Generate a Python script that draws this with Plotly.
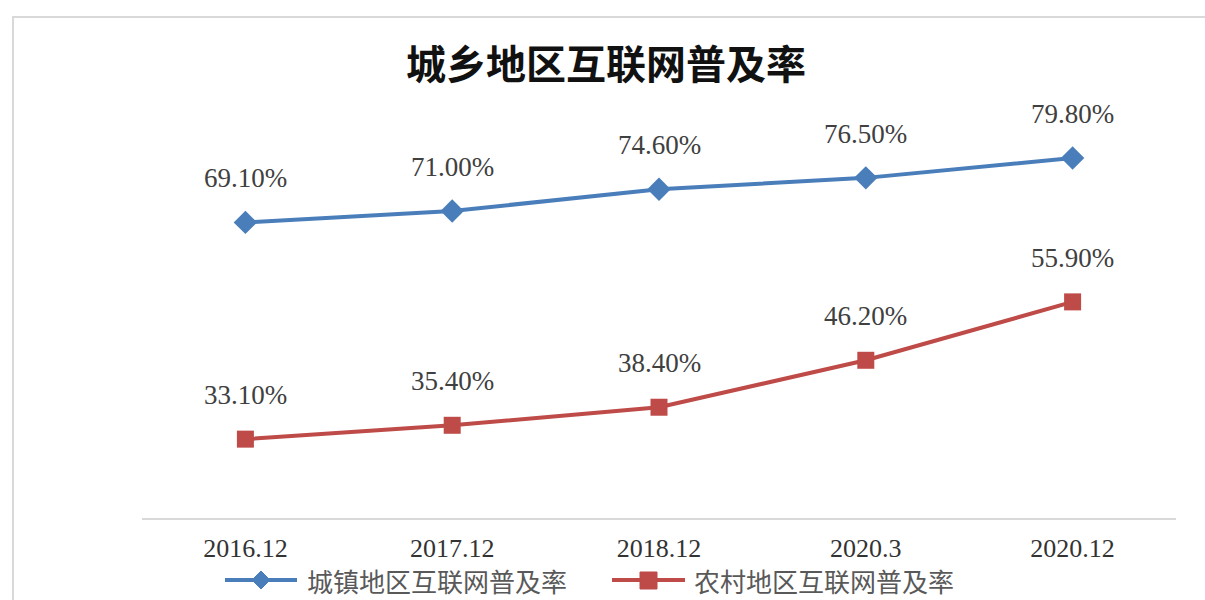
import plotly.graph_objects as go

# Internet penetration, urban vs rural (%)
periods = ["2016.12", "2017.12", "2018.12", "2020.3", "2020.12"]
urban = [69.1, 71.0, 74.6, 76.5, 79.8]
rural = [33.1, 35.4, 38.4, 46.2, 55.9]
urban_name = "城镇地区互联网普及率"
rural_name = "农村地区互联网普及率"
title_text = "城乡地区互联网普及率"

BLUE = "#4a7ebb"
RED = "#be4b48"
W, H = 1205, 600


def px_x(p):
    return p / W


def px_y(p):
    return 1 - p / H


fig = go.Figure()
fig.add_trace(go.Scatter(
    x=periods, y=urban, mode="lines+markers", name=urban_name,
    line=dict(color=BLUE, width=4),
    marker=dict(symbol="diamond", size=18, color=BLUE),
    showlegend=False,
))
fig.add_trace(go.Scatter(
    x=periods, y=rural, mode="lines+markers", name=rural_name,
    line=dict(color=RED, width=4),
    marker=dict(symbol="square", size=17, color=RED),
    showlegend=False,
))

annotations = []
# value labels above each point (category axis positions are serial indices)
for series in (urban, rural):
    for i, v in enumerate(series):
        annotations.append(dict(
            x=i, y=v, xref="x", yref="y", text=f"{v:.2f}%",
            showarrow=False, yshift=44,
            font=dict(family="Liberation Serif", size=27, color="#404040"),
        ))

# title
annotations.append(dict(
    x=px_x(606), y=px_y(62), xref="paper", yref="paper", text=f"<b>{title_text}</b>",
    showarrow=False, xanchor="center", yanchor="middle",
    font=dict(family="Noto Sans CJK SC", size=40, color="#111111"),
))

# legend drawn along the bottom edge
LEG_Y = 580
shapes = [
    dict(type="rect", xref="paper", yref="paper",
         x0=px_x(13), y0=px_y(640), x1=px_x(1230), y1=px_y(17),
         line=dict(color="#d9d9d9", width=2), fillcolor="rgba(0,0,0,0)", layer="below"),
    dict(type="line", xref="paper", yref="paper",
         x0=px_x(225), x1=px_x(297), y0=px_y(LEG_Y), y1=px_y(LEG_Y),
         line=dict(color=BLUE, width=4)),
    dict(type="path", xref="paper", yref="paper",
         path=(f"M {px_x(261)} {px_y(LEG_Y - 9)} L {px_x(270)} {px_y(LEG_Y)} "
               f"L {px_x(261)} {px_y(LEG_Y + 9)} L {px_x(252)} {px_y(LEG_Y)} Z"),
         fillcolor=BLUE, line=dict(color=BLUE, width=1)),
    dict(type="line", xref="paper", yref="paper",
         x0=px_x(612), x1=px_x(685), y0=px_y(LEG_Y), y1=px_y(LEG_Y),
         line=dict(color=RED, width=4)),
    dict(type="rect", xref="paper", yref="paper",
         x0=px_x(640), x1=px_x(657), y0=px_y(LEG_Y - 8), y1=px_y(LEG_Y + 9),
         fillcolor=RED, line=dict(color=RED, width=1)),
]
annotations.append(dict(
    x=px_x(305), y=px_y(LEG_Y), xref="paper", yref="paper", text=urban_name,
    showarrow=False, xanchor="left", yanchor="middle",
    font=dict(family="Noto Sans CJK SC", size=26, color="#595959"),
))
annotations.append(dict(
    x=px_x(692), y=px_y(LEG_Y), xref="paper", yref="paper", text=rural_name,
    showarrow=False, xanchor="left", yanchor="middle",
    font=dict(family="Noto Sans CJK SC", size=26, color="#595959"),
))

fig.update_layout(
    width=W, height=H,
    margin=dict(l=0, r=0, t=0, b=0),
    paper_bgcolor="white", plot_bgcolor="white",
    annotations=annotations, shapes=shapes,
    xaxis=dict(
        domain=[px_x(142), px_x(1176)], type="category", range=[-0.5, 4.5],
        showline=True, linecolor="#d9d9d9", linewidth=2,
        showgrid=False, zeroline=False, ticks="",
        ticklabelstandoff=6,
        tickfont=dict(family="Liberation Serif", size=26, color="#333333"),
    ),
    yaxis=dict(
        domain=[px_y(518), px_y(96.6)], range=[20, 90],
        visible=False, showgrid=False, zeroline=False,
    ),
)

fig.write_html("out.html")
